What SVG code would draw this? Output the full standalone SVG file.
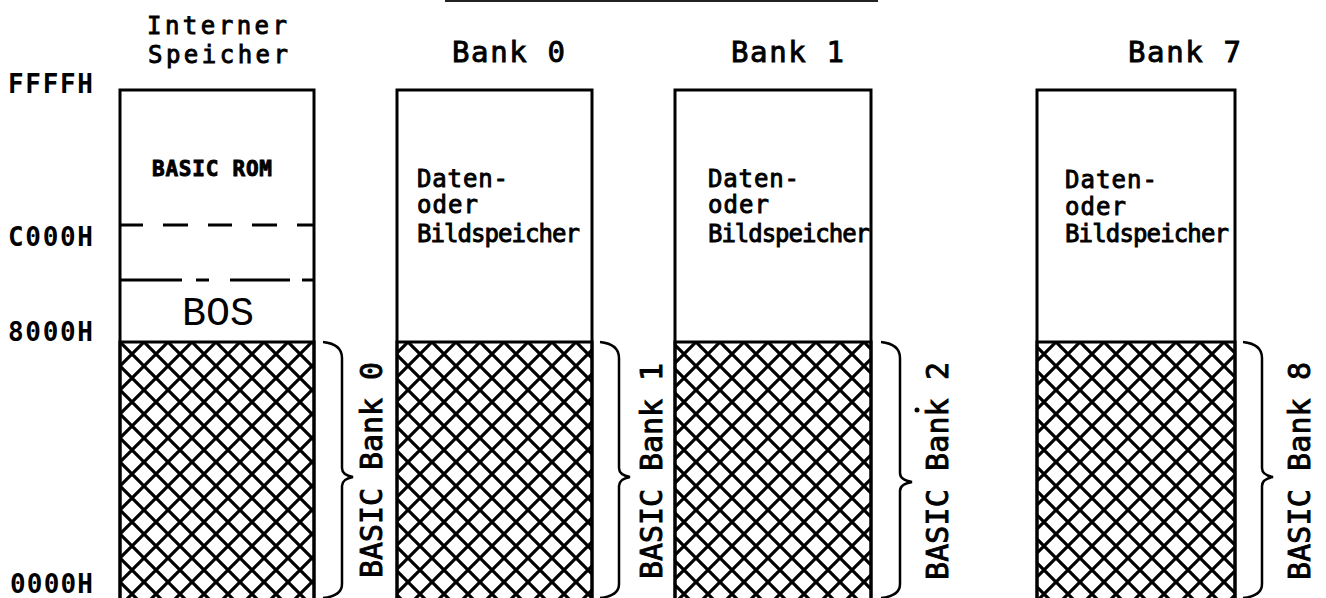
<svg xmlns="http://www.w3.org/2000/svg" width="1326" height="598" viewBox="0 0 1326 598">
<defs>
<pattern id="hatch" patternUnits="userSpaceOnUse" x="120" y="342" width="24" height="24">
<path d="M-6,-6 L30,30 M30,-6 L-6,30" stroke="#000" stroke-width="3.2" fill="none"/>
</pattern>
<style>
.box{fill:#fff;stroke:#000;stroke-width:3}
.hat{fill:url(#hatch);stroke:#000;stroke-width:3}
.t{font-family:"DejaVu Sans Mono","Liberation Mono",monospace;fill:#000;stroke:#000;stroke-width:0.9}
.addr{font-family:"DejaVu Sans Mono","Liberation Mono",monospace;font-weight:bold;font-size:26px;fill:#000}
.ln{stroke:#000;stroke-width:3;fill:none}
.brace{stroke:#000;stroke-width:2.5;fill:none;stroke-linejoin:miter}
</style>
</defs>
<rect width="1326" height="598" fill="#fff"/>
<line x1="445" y1="1" x2="878" y2="1" stroke="#222" stroke-width="2"/>

<g id="addresses">
<text class="addr" x="8" y="93" textLength="85">FFFFH</text>
<text class="addr" x="8" y="246" textLength="85">C000H</text>
<text class="addr" x="8" y="341" textLength="85">8000H</text>
<text class="addr" x="10" y="593" textLength="83">0000H</text>
</g>

<g id="node-intern">
<text class="t" x="147" y="34" font-size="24" textLength="140">Interner</text>
<text class="t" x="148" y="63" font-size="24" textLength="140">Speicher</text>
<rect class="box" x="120" y="90" width="194" height="515"/>
<rect class="hat" x="120" y="342" width="194" height="263"/>
<text class="t" x="152" y="176" font-size="21" font-weight="bold" textLength="120">BASIC ROM</text>
<path class="ln" d="M120,225 H143 M163,225 H188 M208,225 H232 M252,225 H277 M297,225 H314"/>
<path class="ln" d="M120,280 H182 M196,280 H209 M230,280 H290 M302,280 H314"/>
<text x="218" y="325" font-family="'Liberation Mono','DejaVu Sans Mono',monospace" font-size="40" text-anchor="middle" fill="#000">BOS</text>
</g>

<g id="node-bank0">
<text class="t" x="452" y="62" font-size="29" textLength="113">Bank 0</text>
<rect class="box" x="397" y="90" width="195" height="515"/>
<rect class="hat" x="397" y="342" width="195" height="263"/>
<text class="t" x="417" y="187" font-size="24" textLength="91">Daten-</text>
<text class="t" x="417" y="213" font-size="24" textLength="61">oder</text>
<text class="t" x="417" y="242" font-size="24" textLength="163">Bildspeicher</text>
</g>

<g id="node-bank1">
<text class="t" x="731" y="62" font-size="29" textLength="113">Bank 1</text>
<rect class="box" x="675" y="90" width="196" height="515"/>
<rect class="hat" x="675" y="342" width="196" height="263"/>
<text class="t" x="708" y="187" font-size="24" textLength="91">Daten-</text>
<text class="t" x="708" y="213" font-size="24" textLength="61">oder</text>
<text class="t" x="708" y="242" font-size="24" textLength="162">Bildspeicher</text>
</g>

<g id="node-bank7">
<text class="t" x="1128" y="62" font-size="29" textLength="113">Bank 7</text>
<rect class="box" x="1037" y="90" width="198" height="515"/>
<rect class="hat" x="1037" y="342" width="198" height="263"/>
<text class="t" x="1065" y="188" font-size="24" textLength="92">Daten-</text>
<text class="t" x="1065" y="215" font-size="24" textLength="61">oder</text>
<text class="t" x="1065" y="242" font-size="24" textLength="164">Bildspeicher</text>
</g>

<g id="connectors">
<path class="brace" d="M323,342 Q342,344 342,358 L342,468 Q342,475 353,477 Q342,479 342,486 L342,584 Q342,596 323,598"/>
<path class="brace" d="M600,342 Q619,344 619,358 L619,468 Q619,475 630,477 Q619,479 619,486 L619,584 Q619,596 600,598"/>
<path class="brace" d="M881,342 Q900,344 900,358 L900,473 Q900,480 912,482 Q900,484 900,491 L900,584 Q900,596 881,598"/>
<path class="brace" d="M1243,342 Q1262,344 1262,358 L1262,468 Q1262,475 1273,477 Q1262,479 1262,486 L1262,584 Q1262,596 1243,598"/>
</g>

<g id="bank-labels">
<text class="t" font-size="30" textLength="216" transform="translate(382,578) rotate(-90)">BASIC Bank 0</text>
<text class="t" font-size="30" textLength="216" transform="translate(662,579) rotate(-90)">BASIC Bank 1</text>
<text class="t" font-size="30" textLength="218" transform="translate(948,580) rotate(-90)">BASIC Bank 2</text>
<text class="t" font-size="30" textLength="218" transform="translate(1310,580) rotate(-90)">BASIC Bank 8</text>
<circle cx="917" cy="410" r="2.5" fill="#000"/>
</g>
</svg>
